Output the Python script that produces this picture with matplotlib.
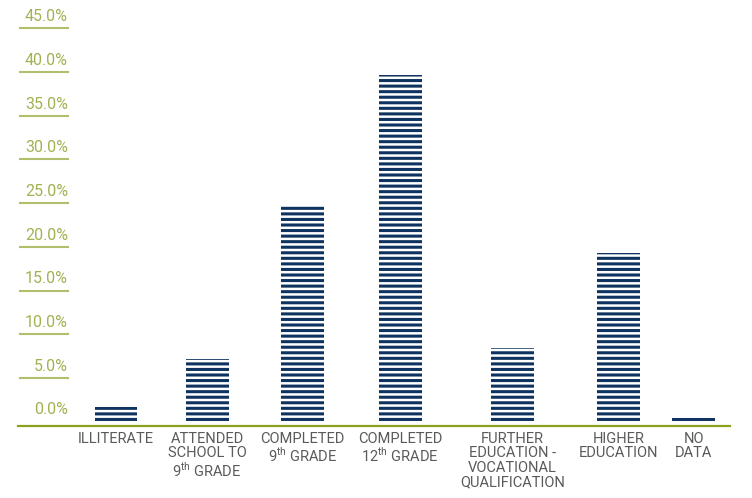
import matplotlib.pyplot as plt
from matplotlib import rcParams

# education level shares (percent)
categories = [
    "ILLITERATE",
    "ATTENDED\nSCHOOL TO\n9$^{\\mathrm{th}}$ GRADE",
    "COMPLETED\n9$^{\\mathrm{th}}$ GRADE",
    "COMPLETED\n12$^{\\mathrm{th}}$ GRADE",
    "FURTHER\nEDUCATION -\nVOCATIONAL\nQUALIFICATION",
    "HIGHER\nEDUCATION",
    "NO\nDATA",
]
shares = [1.7, 7.2, 24.8, 39.7, 8.4, 19.3, 0.4]
y_ticks = [0, 5, 10, 15, 20, 25, 30, 35, 40, 45]
y_labels = [f"{v:.1f}%" for v in y_ticks]

# uneven slot centres, as in the original layout
slots = [0, 0.96, 1.96, 2.99, 4.17, 5.29, 6.08]

NAVY = "#0f3361"
OLIVE_TXT = "#a3b152"
OLIVE_LINE = "#b2be6c"
OLIVE_AXIS = "#8fa01e"
GREY = "#5a5a5a"

rcParams["font.family"] = ["Roboto", "DejaVu Sans"]
rcParams["mathtext.fontset"] = "custom"
rcParams["mathtext.rm"] = "Roboto"
rcParams["hatch.linewidth"] = 2.2

fig = plt.figure(figsize=(7.52, 4.98), dpi=100)
ax = fig.add_axes([18 / 752, 72 / 498, 712 / 752, 426 / 498])

ax.bar(slots, shares, width=0.45, color="white", edgecolor=NAVY,
       hatch="---", linewidth=0)

ax.set_xlim(-1.03, 6.46)
ax.set_ylim(-0.5, 48.24)

for s in ["top", "right", "left"]:
    ax.spines[s].set_visible(False)
ax.spines["bottom"].set_color(OLIVE_AXIS)
ax.spines["bottom"].set_linewidth(1.6)

ax.set_yticks([])
ax.set_xticks(slots, categories, fontsize=10.5, color=GREY, linespacing=1.05)
ax.tick_params(axis="x", length=0, pad=4)

# y labels sit above short olive rules on the left
for v, lab in zip(y_ticks, y_labels):
    if v > 0:
        ax.plot([0.003, 0.0702], [v, v], color=OLIVE_LINE, lw=1.5,
                transform=ax.get_yaxis_transform(), clip_on=False)
    ax.annotate(lab, xy=(0.0702, v), xycoords=("axes fraction", "data"),
                xytext=(0, 3), textcoords="offset points",
                ha="right", va="bottom", fontsize=11.5, color=OLIVE_TXT)

fig.savefig("out.png", dpi=100)
